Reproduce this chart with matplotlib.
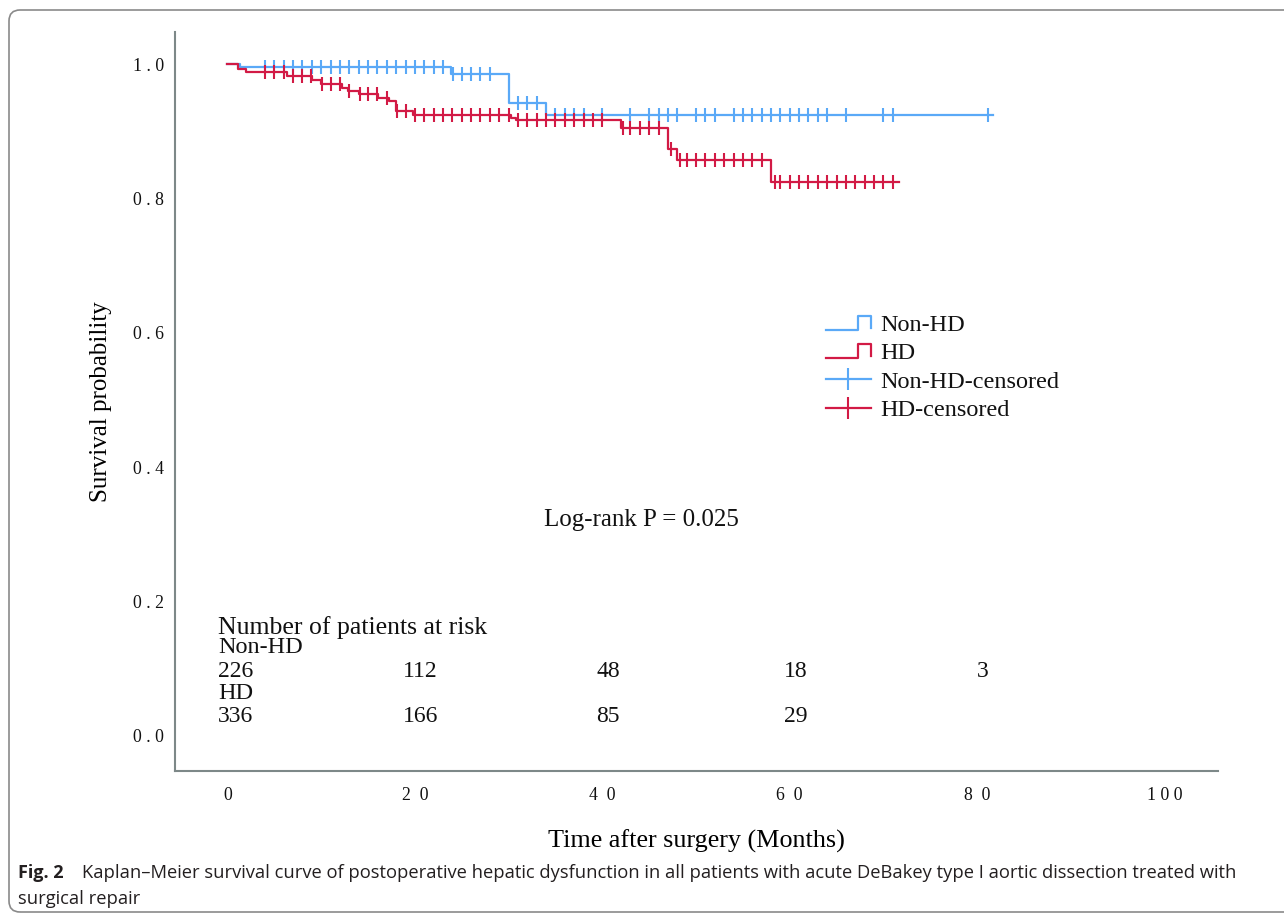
import numpy as np
import matplotlib
matplotlib.use("Agg")
import matplotlib.pyplot as plt
from matplotlib.lines import Line2D
from matplotlib.legend_handler import HandlerBase
from matplotlib.patches import FancyBboxPatch
from matplotlib import transforms

# Kaplan-Meier steps (months, survival after the step)
nonhd_times = [1.3, 23.9, 30.0, 34.0]
nonhd_surv = [0.996, 0.985, 0.942, 0.925]
nonhd_end = 81.7
nonhd_censor = [4, 5, 6, 7, 8, 9, 10, 11, 12, 13, 14, 15, 16, 17, 18, 19, 20, 21, 22, 23,
                24.1, 25, 26, 27, 28, 31, 32, 33, 35, 36, 37, 38, 40, 43, 45, 46, 47, 48,
                50, 51, 52, 54, 55, 56, 57, 58, 59, 60, 61, 62, 63, 64, 66, 70, 71, 81.2]

hd_times = [1.1, 2.0, 6.3, 9.0, 10.0, 12.2, 12.9, 14.0, 16.1, 17.2, 18.0, 19.8,
            30.3, 30.8, 42.0, 47.0, 48.0, 58.0]
hd_surv = [0.993, 0.989, 0.983, 0.977, 0.970, 0.965, 0.960, 0.955, 0.950, 0.945,
           0.931, 0.925, 0.920, 0.917, 0.905, 0.874, 0.858, 0.825]
hd_end = 71.7
hd_censor = [4, 5, 6, 7, 8, 8.9, 10.1, 11, 12, 13, 14.1, 15, 16, 17, 18.1, 19, 20, 21, 22, 23,
             24, 25, 26, 27, 28, 29, 30, 31, 32, 33, 34, 35, 36, 37, 38, 39, 40,
             42.2, 43, 44, 45, 46, 47.3, 48.3, 49, 50, 51, 52, 53, 54, 55, 56, 57,
             58.4, 59, 60, 61, 62, 63, 64, 65, 66, 67, 68, 69, 70, 71]

risk_times = [0, 20, 40, 60, 80]
risk_nonhd = ["226", "112", "48", "18", "3"]
risk_hd = ["336", "166", "85", "29", ""]

xticks = [0, 20, 40, 60, 80, 100]
xtick_labels = ["0", "2\u20020", "4\u20020", "6\u20020", "8\u20020", "1 0 0"]
yticks = [0.0, 0.2, 0.4, 0.6, 0.8, 1.0]
ytick_labels = ["0 . 0", "0 . 2", "0 . 4", "0 . 6", "0 . 8", "1 . 0"]

BLUE = "#5AA9F7"
RED = "#D21A45"
SPINE = "#7d8888"
SERIF = ["Liberation Serif", "DejaVu Serif"]
SANS = ["Open Sans", "DejaVu Sans"]

plt.rcParams["font.family"] = SERIF
plt.rcParams["text.color"] = "#111111"

W, H = 1284, 921
fig = plt.figure(figsize=(W / 100, H / 100), dpi=100)
ax = fig.add_axes([175 / W, 1 - 770.7 / H, (1218 - 175) / W, (770.7 - 32) / H])


def km_curve(times, surv, end):
    t = np.concatenate([[0.0], times, [end]])
    s = np.concatenate([[1.0], surv, [surv[-1]]])
    return t, s


def censor_levels(times, surv, censor):
    idx = np.searchsorted(times, censor, side="right")
    levels = np.concatenate([[1.0], surv])
    return levels[idx]


for times, surv, end, censor, color in [
    (nonhd_times, nonhd_surv, nonhd_end, nonhd_censor, BLUE),
    (hd_times, hd_surv, hd_end, hd_censor, RED),
]:
    t, s = km_curve(times, surv, end)
    ax.step(t, s, where="post", color=color, lw=1.6)
    ax.plot(censor, censor_levels(times, surv, censor), ls="none", marker="|",
            ms=9.5, mew=1.5, color=color)

ax.set_xlim(-5.6, 105.7)
ax.set_ylim(-0.052, 1.048)
ax.set_xticks(xticks, xtick_labels)
ax.set_yticks(yticks, ytick_labels)
ax.tick_params(length=0, labelsize=12.8, labelcolor="#111111")
ax.tick_params(axis="x", pad=12)
ax.tick_params(axis="y", pad=8)
for side in ["top", "right"]:
    ax.spines[side].set_visible(False)
for side in ["left", "bottom"]:
    ax.spines[side].set_color(SPINE)
    ax.spines[side].set_linewidth(1.5)

ax.set_xlabel("Time after surgery (Months)", fontsize=18.8, labelpad=18)
ax.set_ylabel("Survival probability", fontsize=18, labelpad=15)

# risk table
ax.text(-1.0, 0.161, "Number of patients at risk", fontsize=18.5, va="center", ha="left")
ax.text(-1.0, 0.131, "Non-HD", fontsize=17.5, va="center", ha="left")
ax.text(-1.0, 0.0625, "HD", fontsize=17.5, va="center", ha="left")
for i, (t, a, b) in enumerate(zip(risk_times, risk_nonhd, risk_hd)):
    x = -1.0 if i == 0 else t + 0.6
    ha = "left" if i == 0 else "center"
    ax.text(x, 0.095, a, fontsize=17, va="center", ha=ha)
    ax.text(x, 0.028, b, fontsize=17, va="center", ha=ha)

ax.text(44.2, 0.322, "Log-rank P = 0.025", fontsize=18, ha="center", va="center")


class StepHandler(HandlerBase):
    def create_artists(self, legend, orig_handle, xdescent, ydescent,
                       width, height, fontsize, trans):
        x0, y0 = -xdescent, -ydescent
        xs = [x0, x0 + 0.72 * width, x0 + 0.72 * width, x0 + width, x0 + width]
        ys = [y0 + 0.05 * height, y0 + 0.05 * height, y0 + 0.9 * height,
              y0 + 0.9 * height, y0 + 0.2 * height]
        line = Line2D(xs, ys, color=orig_handle.get_color(), lw=orig_handle.get_linewidth())
        line.set_transform(trans)
        return [line]


h_nonhd = Line2D([], [], color=BLUE, lw=1.6)
h_hd = Line2D([], [], color=RED, lw=1.6)
h_nonhd_c = Line2D([], [], color=BLUE, lw=1.6, marker="|", ms=16, mew=1.5)
h_hd_c = Line2D([], [], color=RED, lw=1.6, marker="|", ms=16, mew=1.5)
leg = ax.legend([h_nonhd, h_hd, h_nonhd_c, h_hd_c],
                ["Non-HD", "HD", "Non-HD-censored", "HD-censored"],
                handler_map={h_nonhd: StepHandler(), h_hd: StepHandler()},
                loc="upper left", bbox_to_anchor=(826 / W, 1 - 314 / H),
                bbox_transform=fig.transFigure, frameon=False, fontsize=17.5,
                handlelength=1.85, handletextpad=0.4, labelspacing=0.26,
                borderpad=0, borderaxespad=0, numpoints=1)

# caption
cap = fig.text(18 / W, 1 - 873 / H, "Fig. 2", fontsize=13, weight="bold",
               family=SANS, va="center", color="#231f20")
ax.annotate("Kaplan\u2013Meier survival curve of postoperative hepatic dysfunction in all "
            "patients with acute DeBakey type I aortic dissection treated with",
            xy=(1, 0.5), xycoords=cap, xytext=(13, 0), textcoords="offset points",
            va="center", ha="left", fontsize=13.2, family=SANS,
            color="#231f20", annotation_clip=False)
fig.text(18 / W, 1 - 899 / H, "surgical repair", fontsize=13.2,
         family=SANS, va="center", color="#231f20")

# rounded frame around the figure
px = transforms.Affine2D().scale(1 / W, 1 / H) + fig.transFigure
frame = FancyBboxPatch((9, H - 912), 1320, 912 - 10,
                       boxstyle="round,pad=0,rounding_size=11",
                       fill=False, ec="#8a8a8a", lw=1.2, transform=px)
fig.patches.append(frame)

fig.savefig("out.png", dpi=100)
